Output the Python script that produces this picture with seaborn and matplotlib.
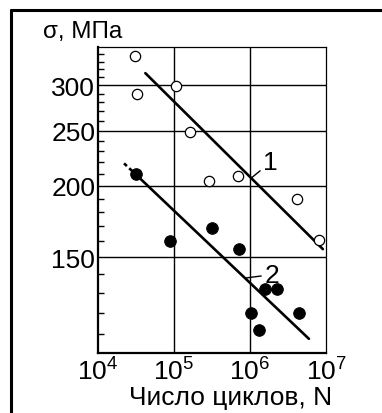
import matplotlib
matplotlib.use("Agg")
import matplotlib.pyplot as plt
import matplotlib.ticker as mticker
from matplotlib.lines import Line2D
import numpy as np
import pandas as pd
import seaborn as sns

# open circles, curve 1
open_n = [3.1e4, 3.3e4, 1.07e5, 1.64e5, 2.9e5, 6.9e5, 4.1e6, 8.1e6]
open_s = [337, 290, 299, 249, 204, 208, 190, 161]
# filled circles, curve 2
fill_n = [3.2e4, 8.9e4, 3.2e5, 7.1e5, 1.56e6, 2.25e6, 1.02e6, 1.3e6, 4.4e6]
fill_s = [210, 160, 169, 155, 132, 132, 120, 112, 120]
# fitted lines
line1_n = [4.2e4, 9.1e6]
line1_s = [315, 155]
line2_n = [3.2e4, 5.96e6]
line2_s = [209, 108]
line2_ext_n = [2.2e4, 3.2e4]
line2_ext_s = [219, 209]

y_major = [150, 200, 250, 300]
y_minor = [v for v in range(110, 350, 10) if v not in y_major]

sns.set_theme(style='white')
plt.rcParams['font.family'] = ['Liberation Sans', 'DejaVu Sans']
plt.rcParams['mathtext.default'] = 'regular'

fig = plt.figure(figsize=(3.82, 4.14), dpi=100)
ax = fig.add_axes([98 / 382, 60 / 414, 228 / 382, 306 / 414])

df_open = pd.DataFrame({'N': open_n, 's': open_s})
df_fill = pd.DataFrame({'N': fill_n, 's': fill_s})

ax.set_xscale('log')
ax.set_yscale('log')

sns.lineplot(x=line1_n, y=line1_s, ax=ax, color='black', lw=1.9, zorder=3)
sns.lineplot(x=line2_n, y=line2_s, ax=ax, color='black', lw=1.9, zorder=3)
sns.lineplot(x=line2_ext_n, y=line2_ext_s, ax=ax, color='black', lw=1.9, ls=(0, (1.5, 1.2)), zorder=3)

sns.scatterplot(data=df_open, x='N', y='s', ax=ax, s=55, facecolor='white', edgecolor='black', linewidth=0.9, zorder=4)
sns.scatterplot(data=df_fill, x='N', y='s', ax=ax, s=70, color='black', edgecolor='black', zorder=4)

ax.set_xlim(1e4, 1e7)
ax.set_ylim(102, 350)

ax.yaxis.set_major_locator(mticker.FixedLocator(y_major))
ax.yaxis.set_minor_locator(mticker.FixedLocator(y_minor))
ax.yaxis.set_major_formatter(mticker.FixedFormatter([str(v) for v in y_major]))
ax.yaxis.set_minor_formatter(mticker.NullFormatter())
ax.xaxis.set_major_locator(mticker.FixedLocator([1e4, 1e5, 1e6, 1e7]))
ax.xaxis.set_minor_locator(mticker.LogLocator(base=10, subs=np.arange(2, 10)))
ax.xaxis.set_minor_formatter(mticker.NullFormatter())

for v in y_major:
    ax.axhline(v, color='black', lw=1.0, zorder=1)
for v in [1e5, 1e6]:
    ax.axvline(v, color='black', lw=1.0, zorder=1)

ax.tick_params(which='both', direction='in', colors='black', labelsize=19, pad=2,
               left=True, bottom=True, top=False, right=False)
ax.tick_params(which='major', length=0)
ax.tick_params(which='minor', length=4.5, width=1.0)
ax.tick_params(axis='x', which='major', pad=3)

for side in ['left', 'bottom']:
    ax.spines[side].set_linewidth(1.6)
    ax.spines[side].set_color('black')
for side in ['top', 'right']:
    ax.spines[side].set_linewidth(0.9)
    ax.spines[side].set_color('black')

ax.set_xlabel('Число циклов, N', fontsize=19, color='black')
ax.xaxis.set_label_coords(0.583, -0.105)
ax.set_ylabel('')

ax.annotate('1', xy=(1.02e6, 206), xytext=(1.5e6, 214), fontsize=19, color='black',
            arrowprops=dict(arrowstyle='-', color='black', lw=1.0, shrinkA=0, shrinkB=0))
ax.annotate('2', xy=(8.8e5, 138), xytext=(1.55e6, 136), fontsize=19, color='black',
            arrowprops=dict(arrowstyle='-', color='black', lw=1.0, shrinkA=0, shrinkB=0))

fig.text(43 / 382, 1 - 38 / 414, 'σ, МПа', fontsize=17.5, color='black', va='baseline')

# outer frame
fig.add_artist(Line2D([11 / 382, 11 / 382], [0, 1 - 11 / 414], transform=fig.transFigure, color='black', lw=2.2))
fig.add_artist(Line2D([11 / 382, 1], [1 - 11 / 414, 1 - 11 / 414], transform=fig.transFigure, color='black', lw=2.2))

fig.savefig('out.png', dpi=100)
plt.close(fig)
